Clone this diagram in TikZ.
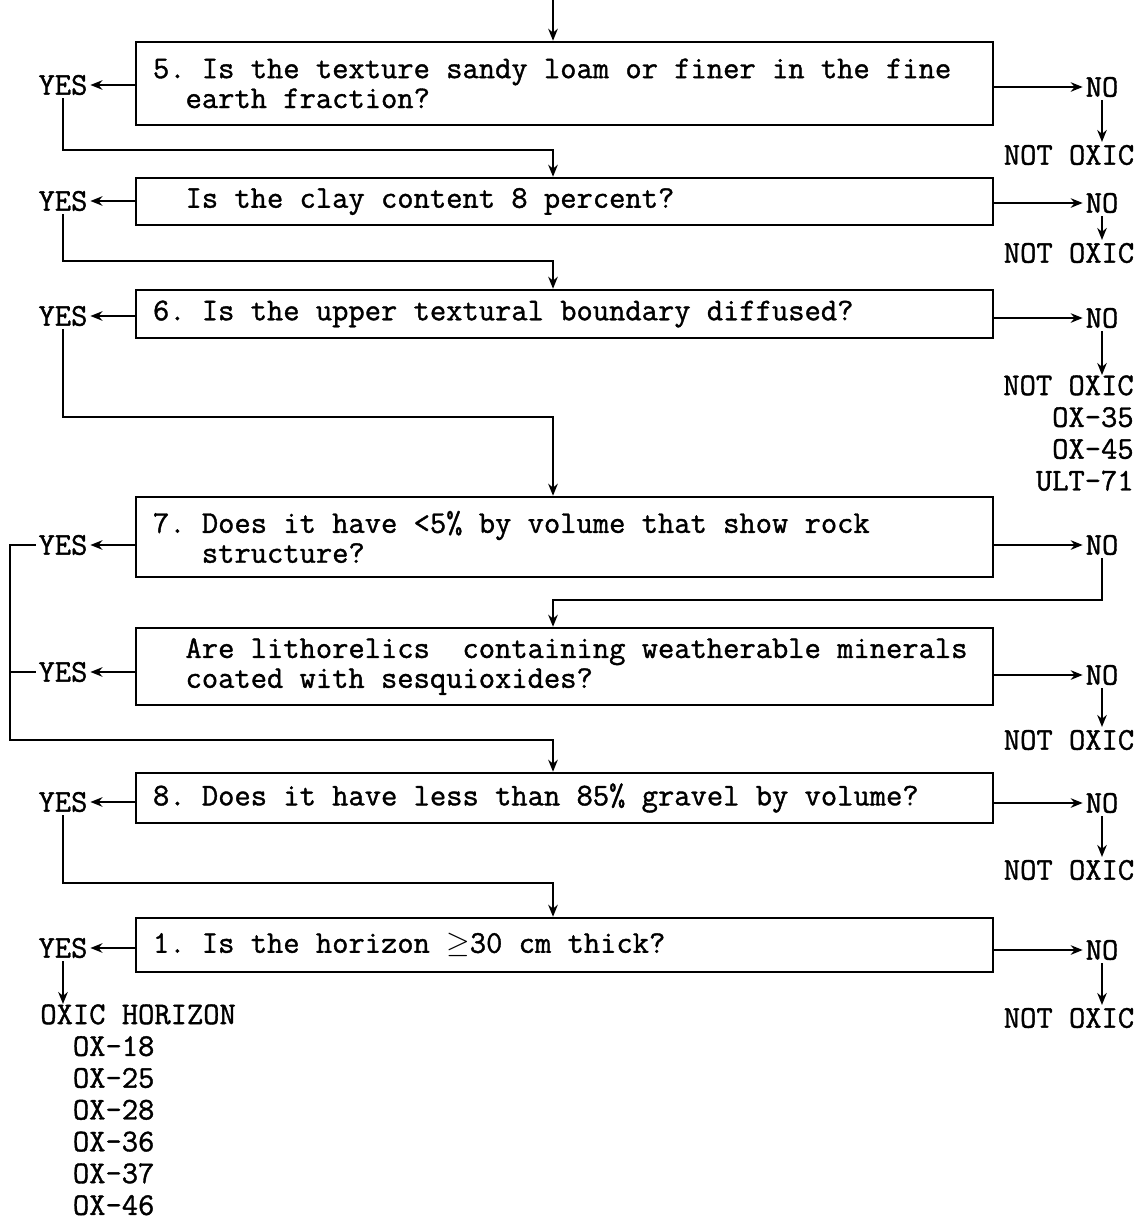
\documentclass[tikz,border=0pt]{standalone}
\usepackage{fontspec}
\newfontfamily\tw[FakeBold=1.2]{Latin Modern Mono}
\newcommand\fixspace{\spaceskip=\fontcharwd\font`a\relax}
\frenchspacing
\usetikzlibrary{arrows.meta,positioning}

\begin{document}
\begin{tikzpicture}[x=0.2mm,y=-0.2mm,
box/.style={draw,line width=1.4pt,minimum width=171.4mm,text width=164.6mm,inner xsep=3.4mm,inner ysep=0pt,align=left,font=\tw\fontsize{18}{17}\selectfont,execute at begin node=\fixspace},
ans/.style={inner sep=1.5pt,font=\tw\fontsize{18}{18}\selectfont,execute at begin node=\fixspace},
res/.style={inner sep=0pt,align=right,font=\tw\fontsize{18}{18.1}\selectfont,execute at begin node=\fixspace},
flow/.style={-{Stealth[length=2.4mm,width=1.9mm]},line width=1.3pt},
wire/.style={line width=1.3pt}]
\useasboundingbox (0,0) rectangle (1141,1222);
% question boxes
\node[box,minimum height=16.6mm] (texture) at (564.5,83.5) {5. Is the texture sandy loam or finer in the fine\\\phantom{00}earth fraction?};
\node[box,minimum height=9.4mm] (clay) at (564.5,201.5) {\phantom{00}Is the clay content 8 percent?};
\node[box,minimum height=9.6mm] (boundary) at (564.5,314) {6. Is the upper textural boundary diffused?};
\node[box,minimum height=16mm] (rock) at (564.5,537) {7. Does it have <5\% by volume that show rock\\\phantom{000}structure?};
\node[box,minimum height=15.4mm] (litho) at (564.5,666.5) {\phantom{00}Are lithorelics\ \ containing weatherable minerals\\\phantom{00}coated with sesquioxides?};
\node[box,minimum height=10mm] (gravel) at (564.5,798) {8. Does it have less than 85\% gravel by volume?};
\node[box,minimum height=10.8mm] (thick) at (564.5,945) {1. Is the horizon $\geq$30 cm thick?};
% answers
\node[ans] (yes1) at (63,85) {YES};
\node[ans] (yes2) at (63,201) {YES};
\node[ans] (yes3) at (63,316) {YES};
\node[ans] (yes4) at (63,545) {YES};
\node[ans] (yes5) at (63,672) {YES};
\node[ans] (yes6) at (63,802) {YES};
\node[ans] (yes7) at (63,948) {YES};
\node[ans] (no1) at (1102,87) {NO};
\node[ans] (no2) at (1102,203) {NO};
\node[ans] (no3) at (1102,318) {NO};
\node[ans] (no4) at (1102,545) {NO};
\node[ans] (no5) at (1102,675) {NO};
\node[ans] (no6) at (1102,803) {NO};
\node[ans] (no7) at (1102,950) {NO};
\node[ans] (not1) at (1069,155) {NOT OXIC};
\node[ans] (not2) at (1069,253) {NOT OXIC};
\node[res,anchor=north east] (not3) at (1134,375) {NOT OXIC\\OX-35\\OX-45\\ULT-71};
\node[ans] (not5) at (1069,740) {NOT OXIC};
\node[ans] (not6) at (1069,870) {NOT OXIC};
\node[ans] (not7) at (1069,1018) {NOT OXIC};
\node[res,align=left,anchor=north west] (oxic) at (40,1004) {OXIC HORIZON\\\phantom{00}OX-18\\\phantom{00}OX-25\\\phantom{00}OX-28\\\phantom{00}OX-36\\\phantom{00}OX-37\\\phantom{00}OX-46};
\coordinate (top) at (553,0);
\coordinate (rail) at (10,740);
% connectors
\draw[flow] (top) -- (top |- texture.north);
\foreach \q/\i in {texture/1,clay/2,boundary/3,rock/4,litho/5,gravel/6,thick/7}{
  \draw[flow] (yes\i -| \q.west) -- (yes\i.east);
  \draw[flow] (no\i -| \q.east) -- (no\i.west);
}
\foreach \i in {1,2,3,5,6,7}
  \draw[flow] (no\i.south) -- (no\i.south |- not\i.north);
\draw[flow] (yes1.south) -- ++(0,52) -| (top |- clay.north);
\draw[flow] (yes2.south) -- ++(0,47) -| (top |- boundary.north);
\draw[flow] (yes3.south) -- ++(0,88) -| (top |- rock.north);
\draw[flow] (no4.south) -- ++(0,42) -| (top |- litho.north);
\draw[flow] (yes4.west) -| (rail) -| (top |- gravel.north);
\draw[wire] (yes5.west) -- (yes5.west -| rail);
\draw[flow] (yes6.south) -- ++(0,68) -| (top |- thick.north);
\draw[flow] (yes7.south) -- (yes7.south |- oxic.north);
\end{tikzpicture}
\end{document}
